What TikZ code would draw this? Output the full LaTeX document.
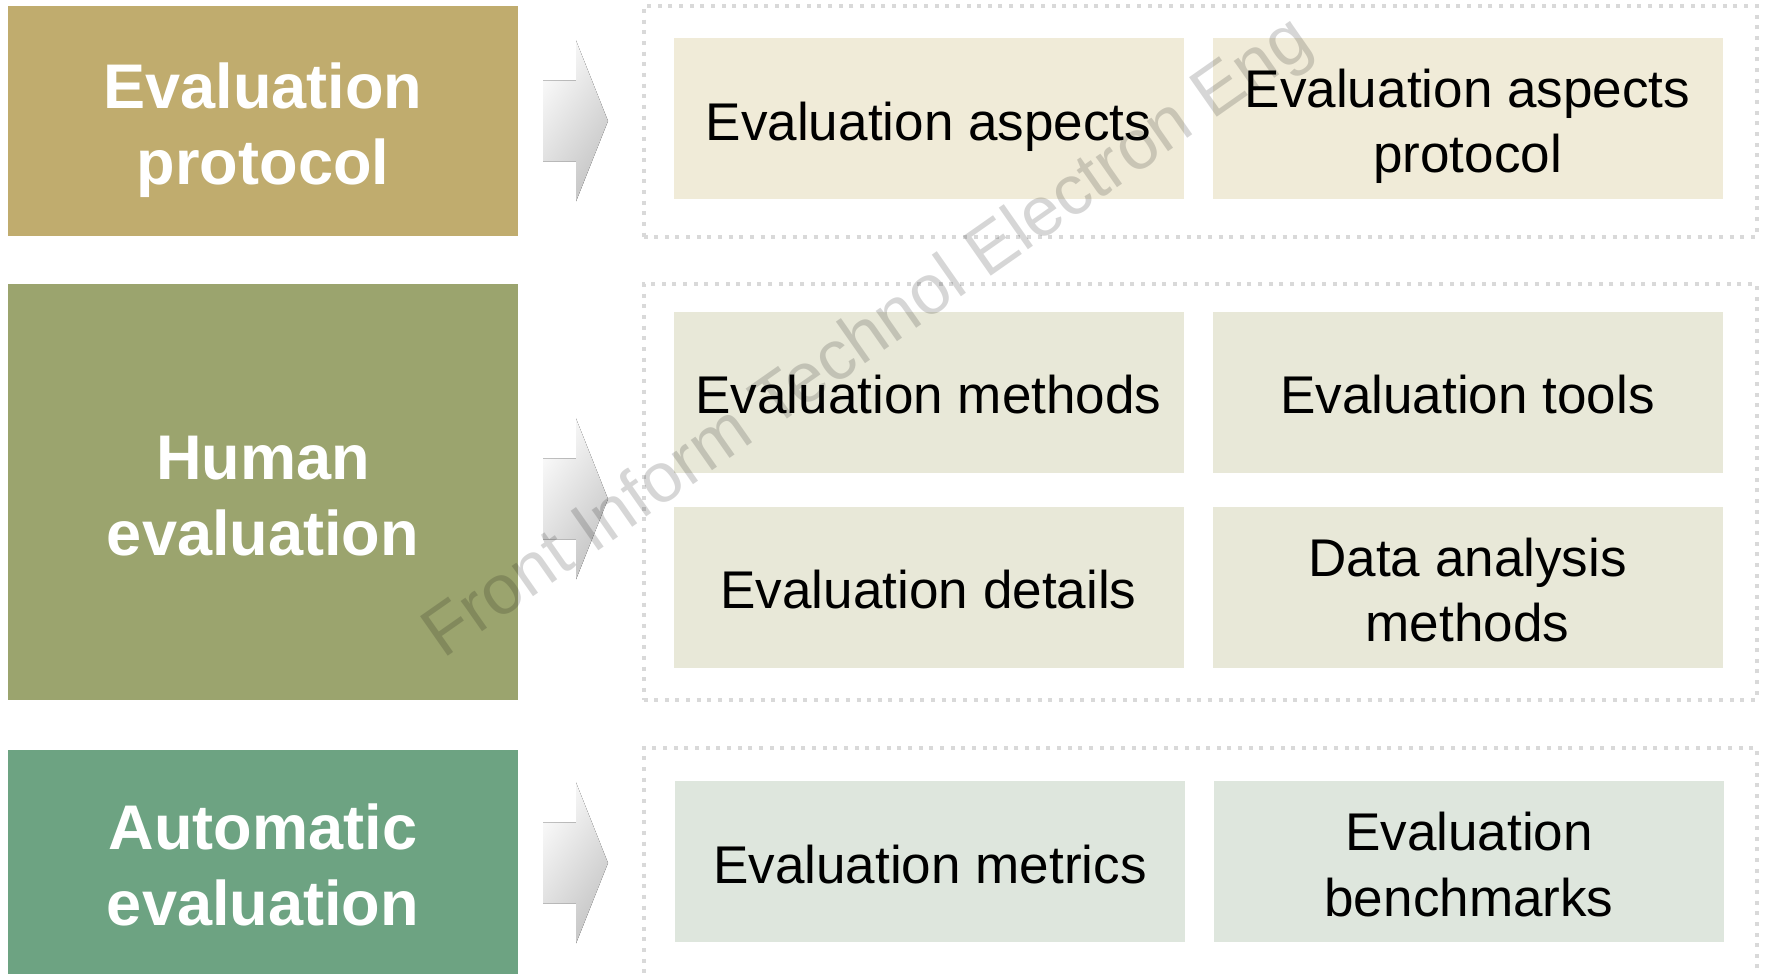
\documentclass[tikz,border=0pt]{standalone}
\usepackage{fontspec}
\setmainfont{Liberation Sans}

\definecolor{protocolo}{RGB}{192,172,110}
\definecolor{humana}{RGB}{155,164,110}
\definecolor{automatica}{RGB}{109,163,130}
\definecolor{crema}{RGB}{240,235,216}
\definecolor{oliva}{RGB}{232,232,216}
\definecolor{verde}{RGB}{222,230,221}
\definecolor{marcogris}{RGB}{217,217,217}

% alto y fondo fijos para la primera y la ultima linea
\newcommand{\sube}{\rule{0pt}{1.03em}}
\newcommand{\baja}{\rule[-0.22em]{0pt}{0.22em}}
\newcommand{\texto}[1]{\sube#1\baja}

\begin{document}
\begin{tikzpicture}[
    every node/.style={inner sep=0pt, align=center},
    bloque/.style={minimum width=10.18cm, text=white,
        font=\fontsize{35.9}{43.4}\selectfont\bfseries},
    caja/.style={minimum width=10.2cm, minimum height=3.22cm,
        font=\fontsize{30.2}{37}\selectfont},
    marco/.style={draw=marcogris, line width=0.08cm,
        dash pattern=on 0.08cm off 0.133cm, minimum width=22.26cm},
    flecha/.style={top color=gray!4, bottom color=gray!46, shading angle=55}
]

\useasboundingbox (0,0) rectangle (35.32,19.48);

% Bloques de la izquierda
\node[bloque, fill=protocolo, minimum height=4.6cm] (prot) at (5.26,17.06)
    {\texto{Evaluation\\protocol}};
\node[bloque, fill=humana, minimum height=8.32cm] (hum) at (5.26,9.64)
    {\texto{Human\\evaluation}};
\node[bloque, fill=automatica, minimum height=4.48cm] (auto) at (5.26,2.24)
    {\texto{Automatic\\evaluation}};

% Flechas
\foreach \y in {17.06,9.50,2.22}
    \fill[flecha] (10.86,\y+0.81) -- (11.52,\y+0.81) -- (11.52,\y+1.61)
        -- (12.16,\y) -- (11.52,\y-1.61) -- (11.52,\y-0.81)
        -- (10.86,\y-0.81) -- cycle;

% Marcos punteados
\node[marco, minimum height=4.62cm] (m1) at (24.0,17.05) {};
\node[marco, minimum height=8.32cm] (m2) at (24.0,9.64) {};
\node[marco, minimum height=4.94cm] (m3) at (24.0,2.05) {};

% Primera fila
\node[caja, fill=crema] (aspectos) at (18.57,17.10)
    {\texto{Evaluation aspects}};
\node[caja, fill=crema] (aspprot) at (29.35,17.10)
    {\texto{Evaluation aspects\\protocol}};

% Segunda fila
\node[caja, fill=oliva] (metodos) at (18.57,11.63)
    {\texto{Evaluation methods}};
\node[caja, fill=oliva] (herram) at (29.35,11.63)
    {\texto{Evaluation tools}};
\node[caja, fill=oliva] (detalles) at (18.57,7.73)
    {\texto{Evaluation details}};
\node[caja, fill=oliva] (analisis) at (29.35,7.73)
    {\texto{Data analysis\\methods}};

% Tercera fila
\node[caja, fill=verde] (metricas) at (18.60,2.24)
    {\texto{Evaluation metrics}};
\node[caja, fill=verde] (bench) at (29.38,2.24)
    {\texto{Evaluation\\benchmarks}};

% Marca de agua
\node[rotate=35, text opacity=0.16, font=\fontsize{39.9}{45}\selectfont]
    (marca) at (17.38,12.69) {Front Inform Technol Electron Eng};

\end{tikzpicture}
\end{document}
